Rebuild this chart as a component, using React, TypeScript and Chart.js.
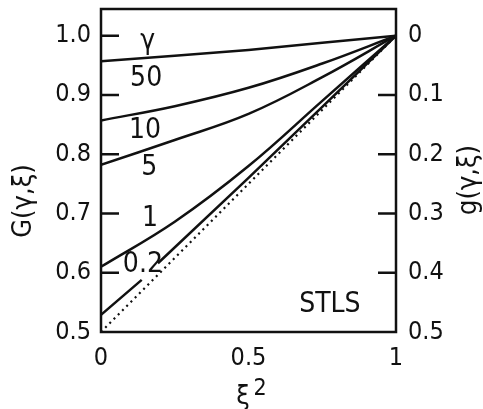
import React, { useEffect, useRef } from "react";
import { Chart, registerables } from "chart.js";

Chart.register(...registerables);

// ---- data ----
const xi2 = [0, 0.25, 0.5, 0.75, 1];
const G50 = [0.957, 0.966, 0.976, 0.988, 1.0];
const G10 = [0.857, 0.881, 0.912, 0.953, 1.0];
const G5 = [0.782, 0.824, 0.868, 0.93, 1.0];
const G1 = [0.61, 0.686, 0.78, 0.89, 1.0];
const xi2Low = [0, 0.138, 0.165, 0.193, 0.5, 0.75, 1];
const G02: (number | null)[] = [0.529, 0.588, null, 0.616, 0.76, 0.88, 1.0];
const xi2Ideal = [0, 1];
const GIdeal = [0.5, 1.0];

const leftTicks = [0.5, 0.6, 0.7, 0.8, 0.9, 1.0];
const rightTicks = [0, 0.1, 0.2, 0.3, 0.4, 0.5];
const xTicks = [0, 0.5, 1];

const curveLabels = ["γ", "50", "10", "5", "1", "0.2"];
const curveLabelX = [0.158, 0.153, 0.149, 0.164, 0.166, 0.142];
const curveLabelY = [0.989, 0.927, 0.839, 0.777, 0.691, 0.613];

const FONT = "'Liberation Sans Narrow', 'DejaVu Sans Condensed', 'Liberation Sans', Arial, sans-serif";
const INK = "#111";

const pts = (xs: number[], ys: (number | null)[]) => xs.map((x, i) => ({ x, y: ys[i] }));

const decorPlugin = {
  id: "decor",
  afterDraw(chart: any) {
    const { ctx, chartArea, scales } = chart;
    const { left, right, top, bottom } = chartArea;
    const y = scales.y;
    const y2 = scales.y2;
    ctx.save();
    ctx.strokeStyle = INK;
    ctx.lineWidth = 2.5;
    ctx.strokeRect(left, top, right - left, bottom - top);
    // inward ticks
    ctx.beginPath();
    leftTicks.forEach((v) => {
      if (v === 0.5) return;
      const py = y.getPixelForValue(v);
      ctx.moveTo(left, py);
      ctx.lineTo(left + 18, py);
    });
    rightTicks.forEach((v) => {
      if (v === 0 || v === 0.5) return;
      const py = y2.getPixelForValue(v);
      ctx.moveTo(right - 18, py);
      ctx.lineTo(right, py);
    });
    ctx.stroke();

    ctx.fillStyle = INK;
    ctx.textAlign = "center";
    ctx.textBaseline = "middle";
    // axis titles
    ctx.font = `27px ${FONT}`;
    ctx.save();
    ctx.translate(24, 201);
    ctx.rotate(-Math.PI / 2);
    ctx.fillText("G(γ,ξ)", 0, 0);
    ctx.restore();
    ctx.save();
    ctx.translate(469, 180);
    ctx.rotate(-Math.PI / 2);
    ctx.fillText("g(γ,ξ)", 0, 0);
    ctx.restore();
    ctx.font = `27px ${FONT}`;
    ctx.fillText("ξ", 243, 397);
    ctx.font = `23px ${FONT}`;
    ctx.fillText("2", 260, 389);

    // curve labels
    ctx.font = `28px ${FONT}`;
    curveLabels.forEach((t, i) => {
      const px = scales.x.getPixelForValue(curveLabelX[i]);
      const py = y.getPixelForValue(curveLabelY[i]);
      ctx.fillText(t, px, py);
    });
    ctx.fillText("STLS", scales.x.getPixelForValue(0.776), y.getPixelForValue(0.546));
    ctx.restore();
  },
};

export default function App() {
  const ref = useRef<HTMLCanvasElement>(null);
  useEffect(() => {
    if (!ref.current) return;
    const line = (data: any, extra: any = {}) => ({
      data,
      borderColor: INK,
      borderWidth: 2.5,
      pointRadius: 0,
      fill: false,
      spanGaps: false,
      ...extra,
    });
    const chart = new Chart(ref.current, {
      type: "line",
      data: {
        datasets: [
          line(pts(xi2, G50), { tension: 0 }),
          line(pts(xi2, G10), { tension: 0.4 }),
          line(pts(xi2, G5), { tension: 0.4 }),
          line(pts(xi2, G1), { tension: 0.4 }),
          line(pts(xi2Low, G02), { tension: 0 }),
          line(pts(xi2Ideal, GIdeal), { tension: 0, borderDash: [2, 4], borderWidth: 2.2 }),
        ],
      },
      options: {
        animation: false,
        responsive: true,
        maintainAspectRatio: false,
        layout: { padding: { top: 9, left: 0, right: 0, bottom: 0 } },
        plugins: { legend: { display: false }, tooltip: { enabled: false } },
        scales: {
          x: {
            type: "linear",
            position: "bottom",
            min: 0,
            max: 1,
            afterBuildTicks: (a: any) => {
              a.ticks = xTicks.map((v) => ({ value: v }));
            },
            afterFit: (s: any) => {
              s.height = 77;
              s.paddingLeft = 0;
              s.paddingRight = 0;
            },
            grid: { display: false, drawTicks: false },
            border: { display: false },
            ticks: {
              padding: 11,
              color: INK,
              font: { family: FONT, size: 25 },
              maxRotation: 0,
              autoSkip: false,
              callback: (v: any) => String(v),
            },
          },
          y: {
            type: "linear",
            position: "left",
            min: 0.5,
            max: 1.045,
            afterBuildTicks: (a: any) => {
              a.ticks = leftTicks.map((v) => ({ value: v }));
            },
            afterFit: (s: any) => {
              s.width = 101;
              s.paddingTop = 0;
              s.paddingBottom = 0;
            },
            grid: { display: false, drawTicks: false },
            border: { display: false },
            ticks: {
              padding: 10,
              color: INK,
              font: { family: FONT, size: 25 },
              autoSkip: false,
              callback: (v: any) => Number(v).toFixed(1),
            },
          },
          y2: {
            type: "linear",
            position: "right",
            reverse: true,
            min: -0.045,
            max: 0.5,
            afterBuildTicks: (a: any) => {
              a.ticks = rightTicks.map((v) => ({ value: v }));
            },
            afterFit: (s: any) => {
              s.width = 87;
              s.paddingTop = 0;
              s.paddingBottom = 0;
            },
            grid: { display: false, drawTicks: false },
            border: { display: false },
            ticks: {
              padding: 12,
              color: INK,
              font: { family: FONT, size: 25 },
              autoSkip: false,
              callback: (v: any) => (Number(v) === 0 ? "0" : Number(v).toFixed(1)),
            },
          },
        },
      } as any,
      plugins: [decorPlugin],
    });
    return () => chart.destroy();
  }, []);
  return (
    <div style={{ position: "absolute", left: 0, top: 0, width: 483, height: 409, background: "#fff" }}>
      <canvas ref={ref} />
    </div>
  );
}
